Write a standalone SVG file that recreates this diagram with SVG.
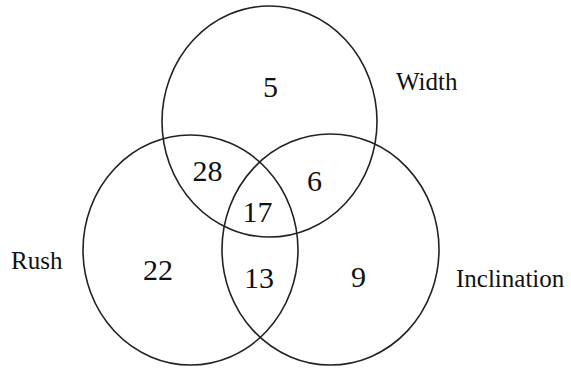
<svg xmlns="http://www.w3.org/2000/svg" width="571" height="370" viewBox="0 0 571 370">
<style>
.c{fill:none;stroke:#222;stroke-width:1.6}
.n{font-family:"Liberation Serif","Times New Roman",serif;font-size:30px;fill:#111;text-anchor:middle}
.l{font-family:"Liberation Serif","Times New Roman",serif;font-size:25px;fill:#111}
</style>
<rect width="571" height="370" fill="#fff"/>
<g id="width-set"><ellipse class="c" cx="269.5" cy="121.5" rx="107.5" ry="115.5"/><text class="l" x="396" y="90">Width</text></g>
<g id="rush-set"><ellipse class="c" cx="190.5" cy="250" rx="107.5" ry="115"/><text class="l" x="11" y="269">Rush</text></g>
<g id="inclination-set"><ellipse class="c" cx="330.5" cy="249.5" rx="108.5" ry="115.5"/><text class="l" x="456" y="287">Inclination</text></g>
<g id="counts">
<text class="n" x="270.5" y="97">5</text>
<text class="n" x="207.5" y="181">28</text>
<text class="n" x="257.5" y="222">17</text>
<text class="n" x="314.5" y="191">6</text>
<text class="n" x="158" y="280">22</text>
<text class="n" x="259" y="288">13</text>
<text class="n" x="358.5" y="287">9</text>
</g>
</svg>
